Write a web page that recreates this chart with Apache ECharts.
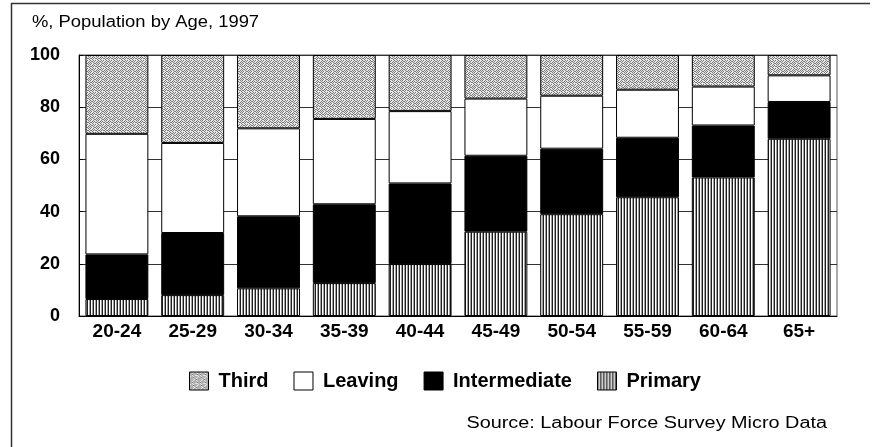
<!DOCTYPE html>
<html>
<head>
<meta charset="utf-8">
<style>
  html, body { margin: 0; padding: 0; background: #fff; }
  #chart { width: 880px; height: 447px; }
</style>
<script src="https://cdn.jsdelivr.net/npm/echarts@6/dist/echarts.min.js"></script>
</head>
<body>
<div id="chart"></div>
<script>
// Population by age group, share (%) by highest level of education, 1997
const ageGroups = ['20-24', '25-29', '30-34', '35-39', '40-44', '45-49', '50-54', '55-59', '60-64', '65+'];
const primary      = [6.5, 8.0, 10.6, 12.6, 19.9, 32.3, 39.0, 45.5, 53.1, 67.9];
const intermediate = [17.1, 23.8, 27.6, 30.2, 30.9, 29.1, 25.1, 22.8, 19.9, 14.1];
const leaving      = [46.2, 34.5, 33.7, 32.7, 27.7, 21.9, 20.3, 18.4, 14.9, 10.2];
const third        = [30.2, 33.7, 28.1, 24.5, 21.5, 16.7, 15.6, 13.3, 12.1, 7.8];
const yTicks = [0, 20, 40, 60, 80, 100];

// Stippled and hatched fills drawn onto small repeating tiles
function stippleTile() {
  const m = [
    '10100100',
    '01001010',
    '10110101',
    '01001000',
    '00100101',
    '01011010',
    '10100100',
    '01010011'
  ];
  const c = document.createElement('canvas');
  c.width = 8; c.height = 8;
  const g = c.getContext('2d');
  for (let y = 0; y < 8; y++) {
    for (let x = 0; x < 8; x++) {
      g.fillStyle = m[y][x] === '1' ? '#7c7c7c' : '#e6e6e6';
      g.fillRect(x, y, 1, 1);
    }
  }
  return c;
}
function stripeTile() {
  const c = document.createElement('canvas');
  c.width = 3; c.height = 4;
  const g = c.getContext('2d');
  g.fillStyle = '#ffffff'; g.fillRect(0, 0, 3, 4);
  g.fillStyle = '#1e1e1e'; g.fillRect(0, 0, 1, 4);
  g.fillStyle = '#a0a0a0'; g.fillRect(2, 0, 1, 4);
  return c;
}
const thirdFill = { image: stippleTile(), repeat: 'repeat' };
const primaryFill = { image: stripeTile(), repeat: 'repeat' };

const FONT = '"Liberation Sans", Arial, sans-serif';

function barSeries(name, data, fill) {
  return {
    name: name,
    type: 'bar',
    stack: 'total',
    data: data,
    barCategoryGap: '17%',
    itemStyle: { color: fill, borderColor: '#000', borderWidth: 1 },
    emphasis: { disabled: true }
  };
}

const chart = echarts.init(document.getElementById('chart'), null, { renderer: 'canvas' });
chart.setOption({
  animation: false,
  backgroundColor: '#fff',
  grid: {
    left: 79, right: 43, top: 55, bottom: 131,
    show: true, borderColor: '#555', borderWidth: 1, backgroundColor: 'transparent'
  },
  legend: {
    data: ['Third', 'Leaving', 'Intermediate', 'Primary'],
    left: 184,
    top: 366,
    itemWidth: 19,
    itemHeight: 18,
    itemGap: 25,
    icon: 'rect',
    textStyle: { fontFamily: FONT, fontWeight: 'bold', fontSize: 20, color: '#000', padding: [0, 0, 0, 5] },
    itemStyle: { borderColor: '#000', borderWidth: 1 }
  },
  xAxis: {
    type: 'category',
    data: ageGroups,
    axisLine: { show: true, lineStyle: { color: '#000', width: 1 } },
    axisTick: { show: false },
    axisLabel: { fontFamily: FONT, fontWeight: 'bold', fontSize: 19, color: '#000', margin: 6 }
  },
  yAxis: {
    type: 'value',
    min: yTicks[0],
    max: yTicks[yTicks.length - 1],
    interval: yTicks[1] - yTicks[0],
    axisLine: { show: true, lineStyle: { color: '#000', width: 1 } },
    axisTick: { show: true, inside: true, length: 4, lineStyle: { color: '#000' } },
    splitLine: { show: true, lineStyle: { color: '#333', width: 1 } },
    axisLabel: { fontFamily: FONT, fontWeight: 'bold', fontSize: 18, color: '#000', margin: 19 }
  },
  series: [
    barSeries('Primary', primary, primaryFill),
    barSeries('Intermediate', intermediate, '#000000'),
    barSeries('Leaving', leaving, '#ffffff'),
    barSeries('Third', third, thirdFill)
  ],
  graphic: [
    { type: 'line', silent: true, shape: { x1: 11, y1: 3.5, x2: 870, y2: 3.5 }, style: { stroke: '#333', lineWidth: 1.5 } },
    { type: 'line', silent: true, shape: { x1: 11.5, y1: 3, x2: 11.5, y2: 447 }, style: { stroke: '#333', lineWidth: 1.5 } },
    {
      type: 'text', x: 32, y: 15, scaleX: 1.15, silent: true,
      style: { text: '%, Population by Age, 1997', x: 0, y: 0, fontFamily: FONT, fontSize: 16, fill: '#000' }
    },
    {
      type: 'text', x: 827, y: 416, scaleX: 1.24, silent: true,
      style: { text: 'Source: Labour Force Survey Micro Data', x: 0, y: 0, align: 'right', fontFamily: FONT, fontSize: 16, fill: '#000' }
    }
  ]
});
</script>
</body>
</html>
